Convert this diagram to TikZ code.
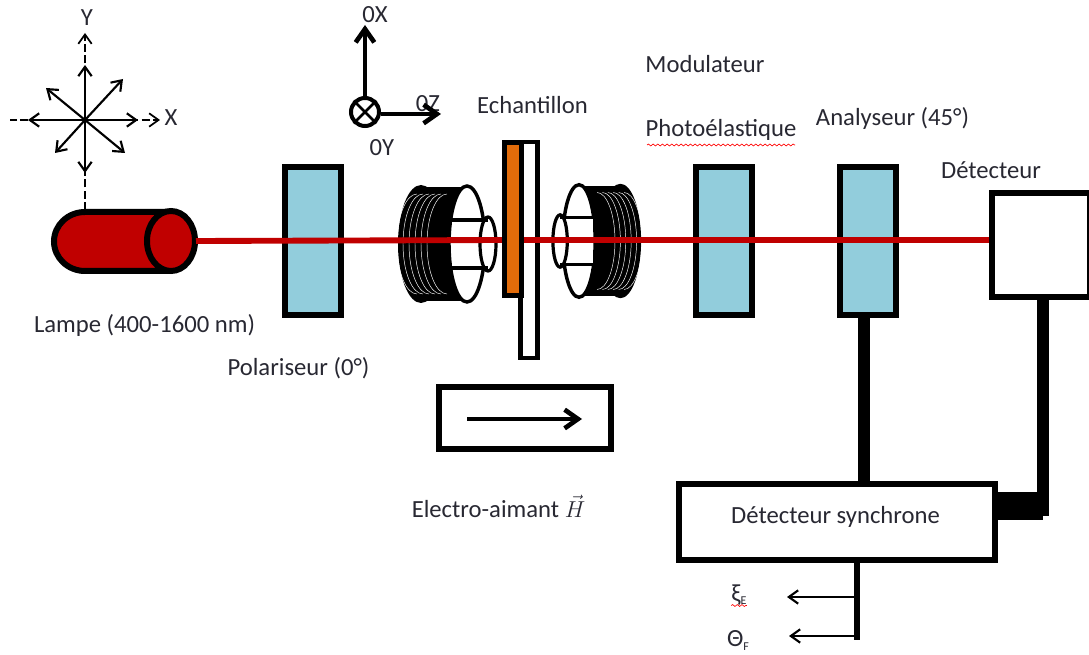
\documentclass[tikz,border=0pt]{standalone}
\usepackage{fontspec}
\setmainfont{Carlito}
\usepackage{tikz}
\usetikzlibrary{arrows.meta,decorations.pathmorphing}
\definecolor{platecolor}{RGB}{146, 205, 220}
\definecolor{lampcolor}{RGB}{192, 0, 0}
\definecolor{samplecolor}{RGB}{227, 108, 10}
\definecolor{labelcolor}{RGB}{40, 40, 50}

\begin{document}
\begin{tikzpicture}[
    x=0.75pt, y=-0.75pt,
    plate/.style={rectangle, draw, line width=4.5pt, fill=platecolor, minimum width=42pt, minimum height=111pt},
    whitebox/.style={rectangle, draw, line width=4.5pt, fill=white, inner sep=0pt},
    lbl/.style={font=\fontsize{18.5}{22}\selectfont, text=labelcolor, inner sep=0pt},
    pol/.style={-{Straight Barb[length=7pt,width=10pt]}, line width=1.6pt},
    poldash/.style={pol, dash pattern=on 6pt off 2.5pt, line width=1.3pt},
    axisline/.style={-{Straight Barb[length=10pt,width=14pt]}, line width=3.5pt},
    beam/.style={lampcolor, line width=4.4pt},
    cable/.style={line width=9pt},
    output/.style={-{Straight Barb[length=7pt,width=10pt]}, line width=1.6pt},
    spell/.style={red, line width=0.5pt, decorate, decoration={snake, amplitude=0.7pt, segment length=3.5pt}},
    coil/.pic={
        \fill[black] (-46,0) ellipse (23 and 59);
        \fill[black] (-46,-57) rectangle (0,57);
        \foreach \i in {-50,-44,-38,-32,-26,-20}
            \draw[white, line width=0.35pt] (\i,-50) arc[start angle=270, end angle=90, x radius=20, y radius=50];
        \draw[fill=white, line width=2.6pt] (0,0) ellipse (18 and 58);
        \fill[white] (-15,-24) rectangle (21,24);
        \draw[line width=2.4pt] (-15,-24) -- (21,-24) (-15,24) -- (21,24);
        \draw[line width=2.4pt] (21,0) ellipse (8 and 27);
    }
]
    \useasboundingbox (0,0) rectangle (1089,655);

    % Polarisation star
    \coordinate (star) at (85,120);
    \coordinate (lampTop) at (85,210);
    \coordinate (starTop) at (85,33);
    \coordinate (starLeft) at (10,120);
    \coordinate (starRight) at (160,120);
    \draw[poldash, -] (lampTop) -- (star);
    \draw[poldash] (star) -- (starTop);
    \draw[poldash, -] (star) -- (starLeft);
    \draw[poldash] (star) -- (starRight);
    \foreach \dx/\dy in {0/-55, 0/53, -57/0, 53/0, 38/-41, -39/-32, -30/33, 40/33}
        \draw[pol] (star) -- ++(\dx,\dy);
    \node[lbl] (labX) at (171,118) {X};
    \node[lbl] (labY) at (87,18) {Y};

    % Lamp
    \coordinate (lampEnd) at (196,241);
    \draw[fill=lampcolor, line width=4.5pt] (171,212) -- (85,212) arc[start angle=270, end angle=90, x radius=31, y radius=29.5]
        -- (171,271);
    \draw[fill=lampcolor, line width=4.5pt] (171,241) ellipse (24 and 30);

    % Beam
    \coordinate (sampleLeft) at (505,240);
    \coordinate (sampleRight) at (524,240);

    % Coils
    \pic at (467,244) {coil};
    \pic[xscale=-0.9, yscale=0.97] at (579,241) {coil};

    % Plates
    \node[plate] (polariseur) at (313,241) {};
    \node[plate] (modulateur) at (724,241) {};
    \node[plate] (analyseur) at (868,241) {};
    \node[whitebox, minimum width=74pt, minimum height=78pt] (detecteur) at (1041,245) {};

    % Sample
    \draw[beam] (lampEnd) -- (sampleLeft);
    \node[rectangle, draw, line width=3.5pt, fill=white, minimum width=13pt, minimum height=162pt] (plaque) at (529,250) {};
    \node[rectangle, draw, line width=4pt, fill=samplecolor, minimum width=12.5pt, minimum height=115pt] (echantillon) at (513,219) {};
    \draw[beam] (sampleRight) -- (detecteur.west |- sampleRight);

    % Magnet
    \node[whitebox, minimum width=129pt, minimum height=47pt] (aimant) at (524.5,418) {};
    \coordinate (fieldStart) at (467,419);
    \coordinate (fieldEnd) at (582,419);
    \draw[axisline] (fieldStart) -- (fieldEnd);

    % Lock-in
    \node[whitebox, minimum width=237pt, minimum height=57pt] (synchrone) at (837,522.5) {};
    \coordinate (cableTop) at (864,318);
    \coordinate (cableCorner) at (1043,506);
    \coordinate (cableEnd) at (1043,516);
    \draw[cable] (cableTop) -- (cableTop |- synchrone.north);
    \draw[cable] (detecteur.south -| cableEnd) -- (cableEnd);
    \draw[line width=21pt] (synchrone.east |- cableCorner) -- (cableCorner);

    % Outputs
    \coordinate (outTop) at (857,563);
    \coordinate (outBottom) at (857,640);
    \coordinate (outE) at (857,597);
    \coordinate (outF) at (857,636);
    \coordinate (tipE) at (787,597);
    \coordinate (tipF) at (789,636);
    \draw[line width=4pt] (outTop) -- (outBottom);
    \draw[output] (outE) -- (tipE);
    \draw[output] (outF) -- (tipF);
    \node[lbl] (labE) at (739,595) {ξ\raisebox{-2pt}{\fontsize{9}{9}\selectfont E}};
    \node[lbl] (labF) at (738,640) {Θ\raisebox{-3pt}{\fontsize{9}{9}\selectfont F}};
    \draw[spell] (labE.south west) -- (labE.south east);

    % Axes
    \node[lbl] (labOX) at (375,15) {0X};
    \node[lbl] (labOZ) at (428,104) {0Z};
    \node[lbl] (labOY) at (382,148) {0Y};
    \node[circle, draw, line width=3pt, minimum size=21pt, inner sep=0pt] (axeY) at (365,112) {};
    \coordinate (axeX) at (365,25);
    \coordinate (axeZ) at (441,114);
    \draw[axisline] (axeY.north) -- (axeX);
    \draw[axisline] (axeY.east |- axeZ) -- (axeZ);
    \draw[line width=2pt] (axeY.north west) -- (axeY.south east);
    \draw[line width=2pt] (axeY.north east) -- (axeY.south west);

    % Labels
    \node[lbl] (labLampe) at (144.5,325) {Lampe (400-1600 nm)};
    \node[lbl] (labPol) at (298.5,368) {Polariseur (0°)};
    \node[lbl] (labEch) at (532.5,105) {Echantillon};
    \node[lbl] (labMod) at (705,64) {Modulateur};
    \node[lbl] (labPhoto) at (721,130) {Photoélastique};
    \draw[spell] (647,145) -- (795,145);
    \node[lbl] (labAna) at (892.5,118) {Analyseur (45°)};
    \node[lbl] (labDet) at (991,170) {Détecteur};
    \node[lbl] (labAim) at (498.5,506) {Electro-aimant $\vec{H}$};
    \node[lbl] (labSyn) at (835.5,517) {Détecteur synchrone};
\end{tikzpicture}
\end{document}
